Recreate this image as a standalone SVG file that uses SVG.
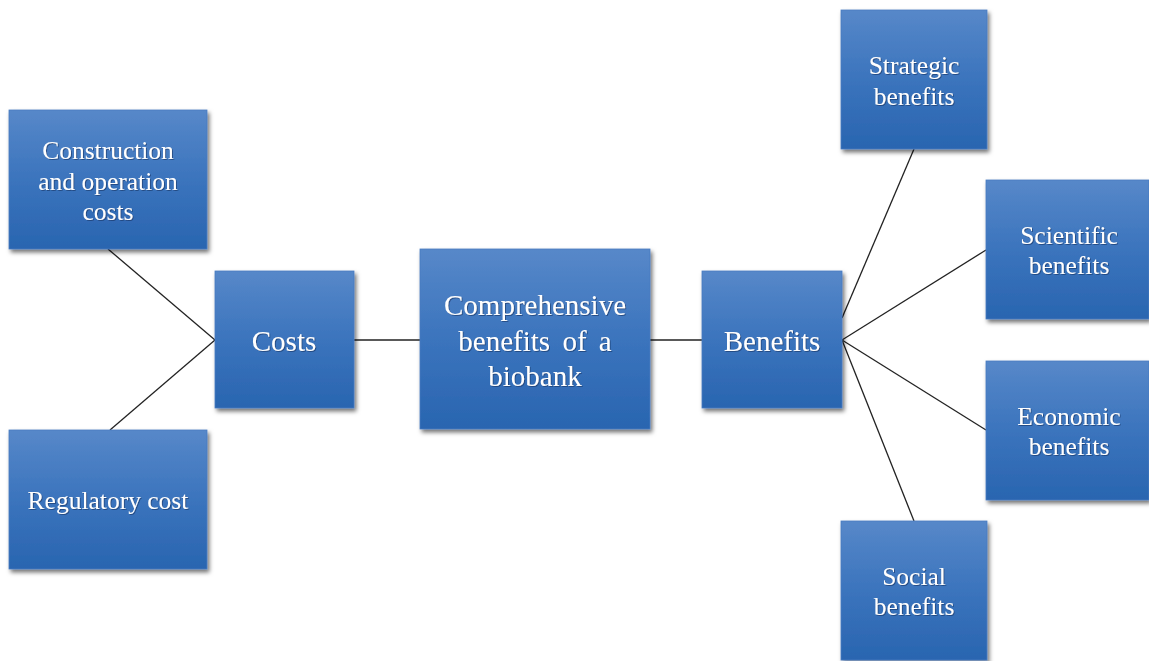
<svg xmlns="http://www.w3.org/2000/svg" width="1149" height="661" viewBox="0 0 1149 661">
<defs>
<linearGradient id="g" x1="0" y1="0" x2="0" y2="1">
<stop offset="0" stop-color="#5788c9"/>
<stop offset="0.5" stop-color="#3b74bd"/>
<stop offset="1" stop-color="#2965b0"/>
</linearGradient>
<filter id="sh" x="-10%" y="-10%" width="125%" height="125%">
<feDropShadow dx="2" dy="3" stdDeviation="2" flood-color="#000" flood-opacity="0.55"/>
</filter>
<filter id="ts" x="-5%" y="-20%" width="110%" height="140%">
<feDropShadow dx="1" dy="1" stdDeviation="0.6" flood-color="#1a3d6e" flood-opacity="0.7"/>
</filter>
<style>
.box{fill:url(#g);stroke:#4a7cc0;stroke-width:0.8;filter:url(#sh)}
.t{font-family:"Liberation Serif","Times New Roman",serif;fill:#fff;text-anchor:middle;filter:url(#ts)}
.s{font-size:25.5px}
.l{font-size:29px}
.c line{stroke:#222;stroke-width:1.3}
</style>
</defs>
<rect width="1149" height="661" fill="#fff"/>
<g class="c" id="connectors">
<line x1="108" y1="249" x2="215" y2="340"/>
<line x1="110" y1="430" x2="215" y2="340"/>
<line x1="354" y1="340" x2="420" y2="340"/>
<line x1="650" y1="340" x2="702" y2="340"/>
<line x1="842" y1="318" x2="914" y2="149"/>
<line x1="842" y1="340" x2="986" y2="250"/>
<line x1="842" y1="340" x2="986" y2="430"/>
<line x1="842" y1="340" x2="914" y2="521"/>
</g>
<g id="construction">
<rect class="box" x="9" y="110" width="198" height="139"/>
<text class="t s" x="108" y="159">Construction</text>
<text class="t s" x="108" y="190">and operation</text>
<text class="t s" x="108" y="220">costs</text>
</g>
<g id="regulatory">
<rect class="box" x="9" y="430" width="198" height="139"/>
<text class="t s" x="108" y="509">Regulatory cost</text>
</g>
<g id="costs">
<rect class="box" x="215" y="271" width="139" height="137"/>
<text class="t l" x="284" y="351">Costs</text>
</g>
<g id="comprehensive">
<rect class="box" x="420" y="249" width="230" height="180"/>
<text class="t l" x="535" y="315">Comprehensive</text>
<text class="t l" x="535" y="351" word-spacing="5">benefits of a</text>
<text class="t l" x="535" y="386">biobank</text>
</g>
<g id="benefits">
<rect class="box" x="702" y="271" width="140" height="137"/>
<text class="t l" x="772" y="351">Benefits</text>
</g>
<g id="strategic">
<rect class="box" x="841" y="10" width="146" height="139"/>
<text class="t s" x="914" y="74">Strategic</text>
<text class="t s" x="914" y="105">benefits</text>
</g>
<g id="scientific">
<rect class="box" x="986" y="180" width="163" height="139"/>
<text class="t s" x="1069" y="244">Scientific</text>
<text class="t s" x="1069" y="274">benefits</text>
</g>
<g id="economic">
<rect class="box" x="986" y="361" width="163" height="139"/>
<text class="t s" x="1069" y="425">Economic</text>
<text class="t s" x="1069" y="455">benefits</text>
</g>
<g id="social">
<rect class="box" x="841" y="521" width="146" height="139"/>
<text class="t s" x="914" y="585">Social</text>
<text class="t s" x="914" y="615">benefits</text>
</g>
</svg>
